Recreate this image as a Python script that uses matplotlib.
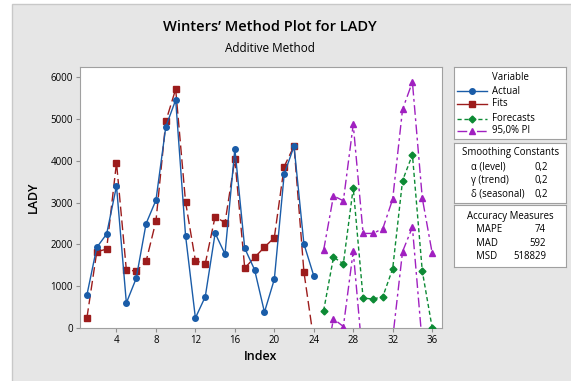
import numpy as np
import matplotlib
matplotlib.use("Agg")
import matplotlib.pyplot as plt
from matplotlib.patches import Rectangle
from matplotlib.lines import Line2D

plt.rcParams['font.family'] = ['Open Sans', 'DejaVu Sans']

# data
idx_fit = np.arange(1, 25)
actual = [790, 1930, 2250, 3400, 600, 1190, 2500, 3060, 4820, 5460, 2215, 240,
          750, 2270, 1770, 4290, 1910, 1395, 380, 1165, 3680, 4355, 2015, 1250]
fits = [240, 1825, 1890, 3960, 1385, 1365, 1595, 2560, 4950, 5720, 3020, 1610,
        1540, 2670, 2520, 4040, 1435, 1690, 1935, 2165, 3865, 4360, 1345, -300]

idx_fc = np.arange(25, 37)
forecast = [415, 1695, 1540, 3355, 715, 695, 750, 1420, 3530, 4150, 1365, 10]
pi_upper = [1865, 3165, 3045, 4875, 2265, 2265, 2380, 3085, 5235, 5890, 3110, 1800]
pi_lower = [-1035, 220, 35, 1835, -830, -875, -885, -250, 1830, 2415, -380, -1800]

W, H = 571, 381
fig = plt.figure(figsize=(W / 100, H / 100), dpi=100)
fig.patch.set_facecolor('white')

def fx(px):
    return px / W

def fy(py):
    return 1 - py / H

# gray panel behind everything
fig.patches.append(Rectangle((fx(12), -0.01), 1, fy(4) + 0.01, transform=fig.transFigure,
                             facecolor='#e6e6e6', edgecolor='#c8c8c8', lw=1, zorder=-10))

c_act = '#1a5ca8'
c_fit = '#9c1c1c'
c_fc = '#0c8a34'
c_pi = '#a020c0'

ax = fig.add_axes([fx(80), fy(328), fx(442) - fx(80), fy(67) - fy(328)])
ax.set_facecolor('white')
ax.plot(idx_fit, actual, color=c_act, lw=1, marker='o', ms=4, zorder=4)
ax.plot(idx_fit, fits, color=c_fit, lw=1, ls=(0, (7, 3)), marker='s', ms=4, zorder=3)
ax.plot(idx_fc, forecast, color=c_fc, lw=1, ls=(0, (3, 2)), marker='D', ms=3.5, zorder=3)
ax.plot(idx_fc, pi_upper, color=c_pi, lw=1, ls=(0, (7, 2.5, 2, 2.5)), marker='^', ms=4.5, zorder=3)
ax.plot(idx_fc, pi_lower, color=c_pi, lw=1, ls=(0, (7, 2.5, 2, 2.5)), marker='^', ms=4.5, zorder=3)

ax.set_xlim(0.3, 37)
ax.set_ylim(0, 6250)
ax.set_xticks(np.arange(4, 37, 4))
ax.set_yticks(np.arange(0, 6001, 1000))
ax.tick_params(labelsize=7, color='#909090', length=3, width=0.8, pad=2)
for s in ax.spines.values():
    s.set_color('#a0a0a0')
ax.set_xlabel('Index', fontsize=9, fontweight='semibold', labelpad=3)
ax.set_ylabel('LADY', fontsize=9, fontweight='semibold', labelpad=8)

fig.text(fx(270), fy(27), "Winters\u2019 Method Plot for LADY", ha='center', va='center',
         fontsize=10.5, fontweight='semibold')
fig.text(fx(270), fy(48), "Additive Method", ha='center', va='center', fontsize=8.5,
         fontweight='medium')

def box(top, bottom):
    b = fig.add_axes([fx(454), fy(bottom), fx(566) - fx(454), fy(top) - fy(bottom)])
    b.set_xlim(454, 566)
    b.set_ylim(bottom, top)
    b.set_xticks([])
    b.set_yticks([])
    b.set_facecolor('white')
    for s in b.spines.values():
        s.set_color('#a0a0a0')
    return b

fs = 6.9
b1 = box(67, 139)
b1.text(510, 77, 'Variable', ha='center', va='center', fontsize=fs)
entries = [('Actual', c_act, '-', 'o', 4),
           ('Fits', c_fit, '-', 's', 4),
           ('Forecasts', c_fc, (0, (3, 2)), 'D', 3.5),
           ('95,0% PI', c_pi, (0, (7, 2.5, 2, 2.5)), '^', 4.5)]
for (lab, c, ls, m, ms), yy in zip(entries, [91, 104, 118.5, 131]):
    b1.add_line(Line2D([457, 487], [yy, yy], color=c, lw=1, ls=ls))
    b1.plot([472], [yy], marker=m, color=c, ms=ms)
    b1.text(492, yy, lab, ha='left', va='center', fontsize=fs)

b2 = box(143, 203)
b2.text(510.5, 153, 'Smoothing Constants', ha='center', va='center', fontsize=fs)
for (lab, val), yy in zip([('\u03b1 (level)', '0,2'), ('\u03b3 (trend)', '0,2'),
                           ('\u03b4 (seasonal)', '0,2')], [167.5, 181, 194.5]):
    b2.text(470.5, yy, lab, ha='left', va='center', fontsize=fs)
    b2.text(548, yy, val, ha='right', va='center', fontsize=fs)

b3 = box(205, 267)
b3.text(510, 216.5, 'Accuracy Measures', ha='center', va='center', fontsize=fs)
for (lab, val), yy in zip([('MAPE', '74'), ('MAD', '592'), ('MSD', '518829')],
                          [229.5, 243, 256.5]):
    b3.text(475.5, yy, lab, ha='left', va='center', fontsize=fs)
    b3.text(546, yy, val, ha='right', va='center', fontsize=fs)

fig.savefig('out.png', dpi=100)
